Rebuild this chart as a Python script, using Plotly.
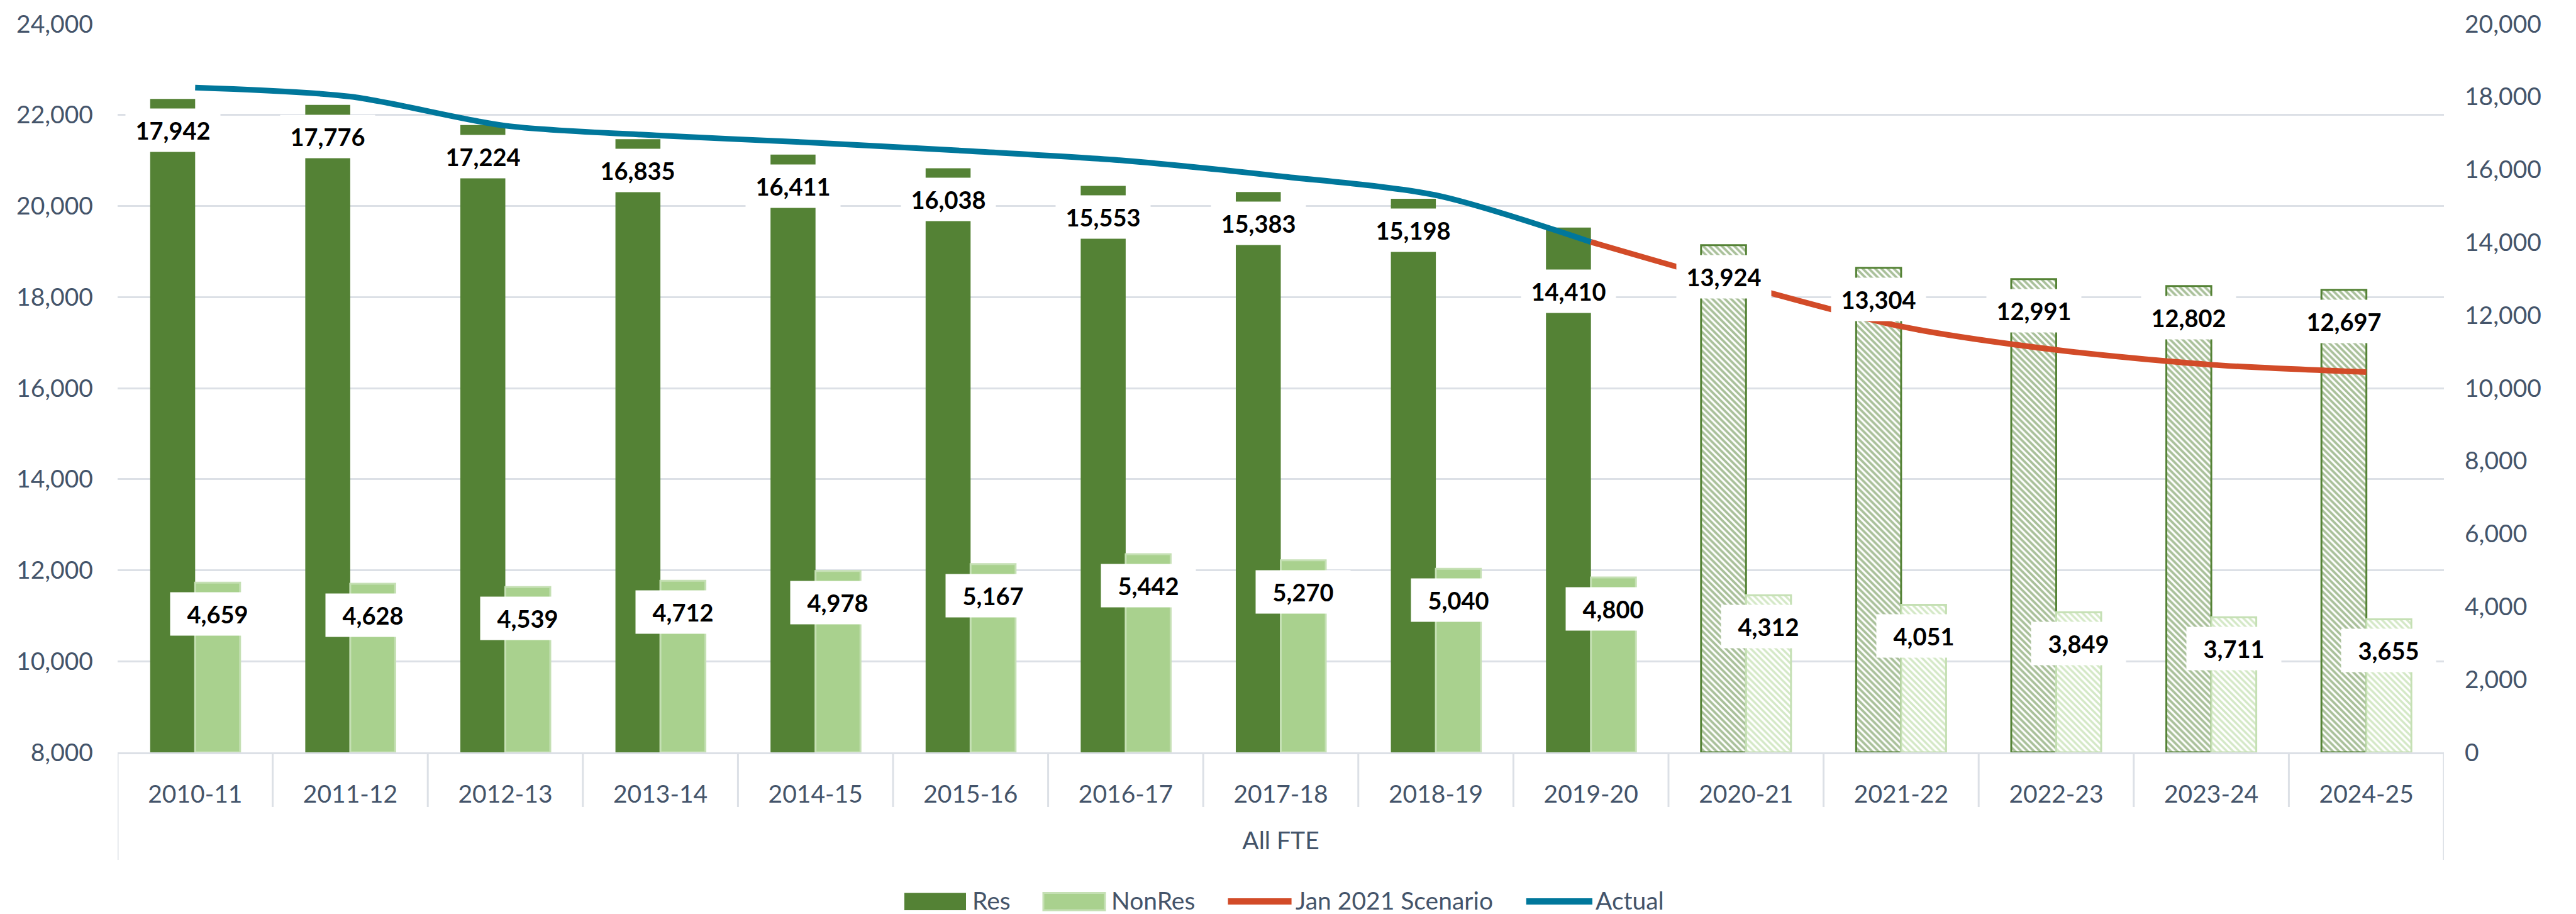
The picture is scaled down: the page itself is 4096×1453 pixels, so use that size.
import plotly.graph_objects as go

# ---------------- data ----------------
categories = ["2010-11", "2011-12", "2012-13", "2013-14", "2014-15", "2015-16", "2016-17",
              "2017-18", "2018-19", "2019-20", "2020-21", "2021-22", "2022-23", "2023-24", "2024-25"]
res = [17942, 17776, 17224, 16835, 16411, 16038, 15553, 15383, 15198, 14410,
       13924, 13304, 12991, 12802, 12697]
nonres = [4659, 4628, 4539, 4712, 4978, 5167, 5442, 5270, 5040, 4800,
          4312, 4051, 3849, 3711, 3655]
actual_years = ["2010-11", "2011-12", "2012-13", "2013-14", "2014-15", "2015-16", "2016-17",
                "2017-18", "2018-19", "2019-20"]
actual = [22601, 22404, 21763, 21547, 21389, 21205, 20995, 20653, 20238, 19210]
scenario_years = ["2019-20", "2020-21", "2021-22", "2022-23", "2023-24", "2024-25"]
scenario = [19210, 18236, 17355, 16840, 16513, 16352]
left_ticks = [8000, 10000, 12000, 14000, 16000, 18000, 20000, 22000, 24000]
right_ticks = [0, 2000, 4000, 6000, 8000, 10000, 12000, 14000, 16000, 18000, 20000]
first_projection = "2020-21"
series_names = ["Res", "NonRes", "Jan 2021 Scenario", "Actual"]
axis_title = "All FTE"

# ---------------- styles ----------------
FONT = "Lato, 'Open Sans', sans-serif"
TXT = "#44546A"
GRID = "#DCE0E6"
RES_C = "#548235"
NON_C = "#A9D18E"
NON_EDGE = "#C5E0B4"
SCEN_C = "#D24B28"
ACT_C = "#00779B"

W, H = 4096, 1453
ML, MR, MT, MB = 187, 210, 38, 257
PW, PH = W - ML - MR, H - MT - MB


def px_x(p):
    return (p - ML) / PW


def px_y(p):
    return (H - MB - p) / PH


proj_idx = categories.index(first_projection)
proj = [i >= proj_idx for i in range(len(categories))]

fig = go.Figure()

fig.add_trace(go.Bar(
    x=categories, y=res, name=series_names[0], yaxis="y", showlegend=False,
    marker=dict(
        color=RES_C,
        line=dict(color=RES_C, width=[3 if p else 0 for p in proj]),
        pattern=dict(shape=["\\" if p else "" for p in proj], fgcolor=RES_C,
                     bgcolor="white", size=7, solidity=0.55),
    ),
    hoverinfo="skip",
))
fig.add_trace(go.Bar(
    x=categories, y=nonres, name=series_names[1], yaxis="y", showlegend=False,
    marker=dict(
        color=NON_C,
        line=dict(color=NON_EDGE, width=3),
        pattern=dict(shape=["\\" if p else "" for p in proj], fgcolor=NON_C,
                     bgcolor="white", size=7, solidity=0.5),
    ),
    hoverinfo="skip",
))
fig.add_trace(go.Scatter(
    x=actual_years, y=actual, name=series_names[3], yaxis="y2", mode="lines",
    line=dict(color=ACT_C, width=9, shape="spline", smoothing=0.8), showlegend=False,
    hoverinfo="skip",
))
fig.add_trace(go.Scatter(
    x=scenario_years, y=scenario, name=series_names[2], yaxis="y2", mode="lines",
    line=dict(color=SCEN_C, width=9, shape="spline", smoothing=0.8), showlegend=False,
    hoverinfo="skip",
))

annotations = []
BAR_OFF = 0.145
label_shift = {("Res", "2019-20"): -101}
for i, cat in enumerate(categories):
    for name, vals, off in (("Res", res, -BAR_OFF), ("NonRes", nonres, BAR_OFF)):
        annotations.append(dict(
            x=i + off, y=vals[i], xref="x", yref="y",
            text=f"{vals[i]:,}", showarrow=False,
            yshift=label_shift.get((name, cat), -50),
            xanchor="center", yanchor="middle",
            bgcolor="white", borderpad=11, width=128, height=46,
            font=dict(family=FONT, size=38, color="black", weight="bold"),
        ))

# custom legend (wide keys as in the original)
shapes = []
leg_y = 1433
leg_items = [
    ("rect", series_names[0], RES_C, None, 1438, 1536, 1544.5),
    ("rect", series_names[1], NON_C, NON_EDGE, 1659, 1757, 1765.5),
    ("line", series_names[2], SCEN_C, None, 1952.5, 2053.6, 2058.7),
    ("line", series_names[3], ACT_C, None, 2426.8, 2532, 2535.6),
]
for kind, label, col, edge, x0, x1, tx in leg_items:
    if kind == "rect":
        shapes.append(dict(type="rect", xref="paper", yref="paper",
                           x0=px_x(x0), x1=px_x(x1), y0=px_y(1447), y1=px_y(1419.5),
                           fillcolor=col,
                           line=dict(color=edge if edge else col, width=3 if edge else 0)))
    else:
        shapes.append(dict(type="line", xref="paper", yref="paper",
                           x0=px_x(x0), x1=px_x(x1), y0=px_y(leg_y), y1=px_y(leg_y),
                           line=dict(color=col, width=10)))
    annotations.append(dict(x=px_x(tx), y=px_y(1431), xref="paper", yref="paper",
                            text=label, showarrow=False, xanchor="left", yanchor="middle",
                            borderpad=0, font=dict(family=FONT, size=39, color=TXT)))

# category box dividers
n = len(categories)
for k in range(n + 1):
    outer = k in (0, n)
    shapes.append(dict(type="line", xref="x", yref="paper",
                       x0=k - 0.5, x1=k - 0.5, y0=0,
                       y1=px_y(1367) if outer else px_y(1283),
                       line=dict(color=GRID, width=3)))

fig.update_layout(
    width=W, height=H,
    margin=dict(l=ML, r=MR, t=MT, b=MB, pad=0),
    paper_bgcolor="white", plot_bgcolor="white",
    font=dict(family=FONT, size=39, color=TXT),
    barmode="group", bargap=0.42, bargroupgap=0,
    showlegend=False,
    xaxis=dict(
        type="category", categoryorder="array", categoryarray=categories,
        range=[-0.5, n - 0.5], showgrid=False, zeroline=False,
        showline=True, linecolor=GRID, linewidth=3, ticks="",
        tickfont=dict(family=FONT, size=39, color=TXT),
        ticklabelstandoff=30, automargin=False,
        title=dict(text=axis_title, font=dict(family=FONT, size=39, color=TXT), standoff=40),
    ),
    yaxis=dict(
        side="right", range=[0, 20000], tickvals=right_ticks, tickformat=",",
        showgrid=False, zeroline=False, showline=False, ticks="",
        tickfont=dict(family=FONT, size=39, color=TXT),
        ticklabelstandoff=32, automargin=False,
    ),
    yaxis2=dict(
        overlaying="y", side="left", range=[8000, 24000], tickvals=left_ticks,
        tickformat=",", showgrid=True, gridcolor=GRID, gridwidth=3,
        zeroline=False, showline=False, ticks="",
        tickfont=dict(family=FONT, size=39, color=TXT),
        ticklabelstandoff=38, automargin=False,
    ),
    annotations=annotations,
    shapes=shapes,
)

fig.write_html("out.html",
               post_script="document.body.style.margin='0';document.body.style.overflow='hidden';")
